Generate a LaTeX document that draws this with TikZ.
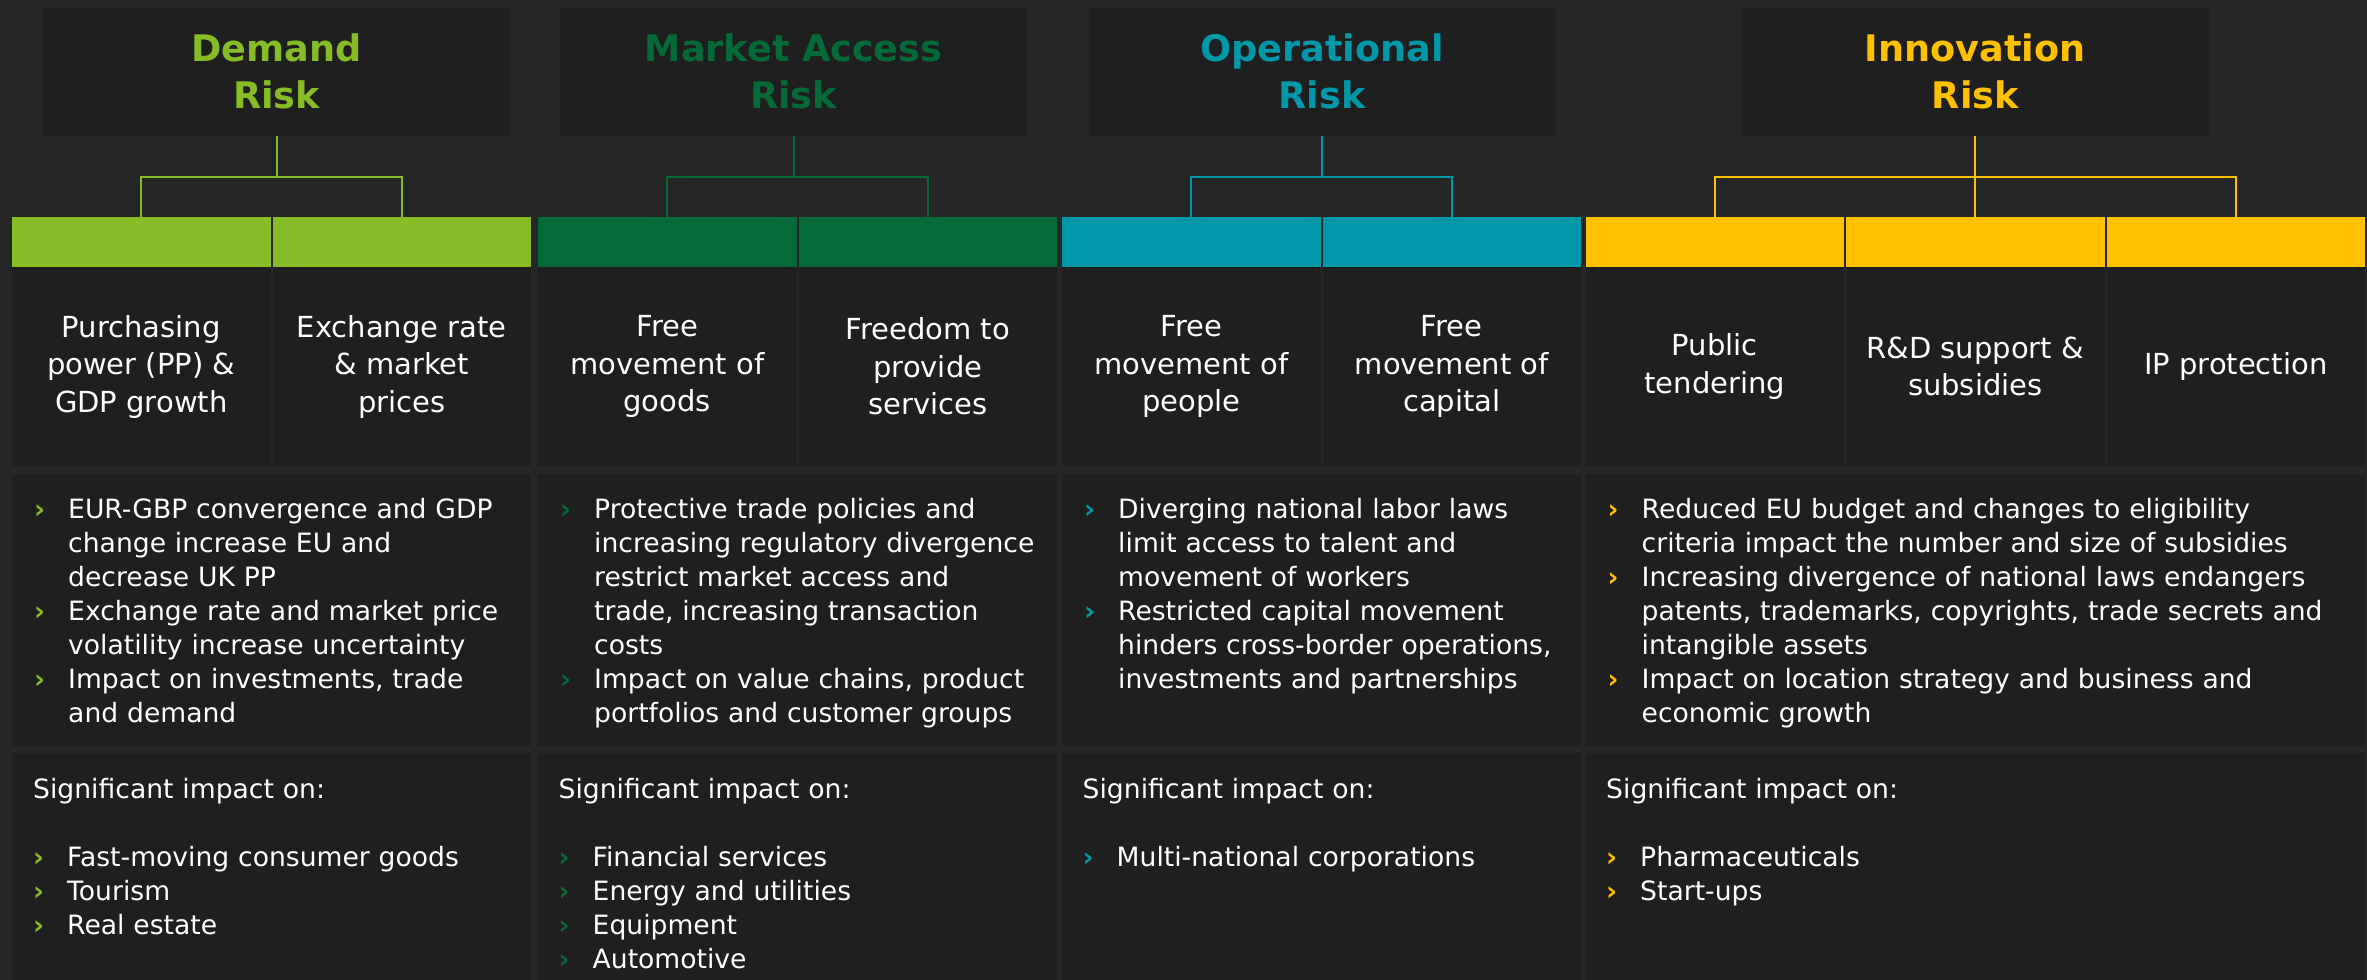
\documentclass[tikz,border=0pt]{standalone}
\usepackage{fontspec}
\setmainfont{DejaVu Sans}
\definecolor{bgcol}{HTML}{262626}
\definecolor{boxcol}{HTML}{201F20}
\definecolor{demcol}{HTML}{86BC25}
\definecolor{mktcol}{HTML}{046A38}
\definecolor{opcol}{HTML}{0097A9}
\definecolor{inncol}{HTML}{FFC000}
\tikzset{
  head/.style={fill=boxcol, minimum width=467pt, minimum height=128.5pt, inner sep=0pt,
    align=center, font=\bfseries\fontsize{36.6}{47}\selectfont},
  bar/.style={minimum width=258.5pt, minimum height=50pt, inner sep=0pt},
  lbl/.style={fill=boxcol, text=white, minimum width=258.5pt, minimum height=199pt,
    inner sep=0pt, align=center, font=\fontsize{29}{37.5}\selectfont},
  listbox/.style={fill=boxcol, minimum height=272pt, inner sep=0pt},
  impbox/.style={fill=boxcol, minimum height=227pt, inner sep=0pt},
  txt/.style={anchor=base west, text=white, text width=760pt, align=left, inner sep=0pt,
    font=\fontsize{26.6}{34}\selectfont},
  link/.style={line width=2pt}
}
\newcommand{\blt}[1]{\makebox[34pt][l]{\textcolor{#1}{\bfseries ›}}}
\newcommand{\bind}{\hspace*{34pt}}
\begin{document}
\begin{tikzpicture}[x=1pt,y=-1pt]
  \fill[bgcol] (0,0) rectangle (2367,980);
  \useasboundingbox (0,0) rectangle (2367,980);
  % headers
  \path
    (276.5,71.75) node[head, text=demcol] (dmh) {Demand\\Risk}
    (793.5,71.75) node[head, text=mktcol] (mah) {Market Access\\Risk}
    (1322,71.75) node[head, text=opcol] (oph) {Operational\\Risk}
    (1975.25,71.75) node[head, text=inncol] (inh) {Innovation\\Risk};
  % colour bars
  \path
    (141.25,242) node[bar, fill=demcol] (dm1) {}
    (401.75,242) node[bar, fill=demcol] (dm2) {}
    (667.25,242) node[bar, fill=mktcol] (ma1) {}
    (927.75,242) node[bar, fill=mktcol] (ma2) {}
    (1191.25,242) node[bar, fill=opcol] (op1) {}
    (1451.75,242) node[bar, fill=opcol] (op2) {}
    (1714.75,242) node[bar, fill=inncol] (in1) {}
    (1975.25,242) node[bar, fill=inncol] (in2) {}
    (2235.75,242) node[bar, fill=inncol] (in3) {};
  % label cells
  \path
    (141.25,366.5) node[lbl] (dml1) {Purchasing\\power (PP) \&\\GDP growth}
    (401.75,366.5) node[lbl] (dml2) {Exchange rate\\\& market\\prices}
    (667.25,366.5) node[lbl] (mal1) {Free\\movement of\\goods}
    (927.75,366.5) node[lbl] (mal2) {Freedom to\\provide\\services}
    (1191.25,366.5) node[lbl] (opl1) {Free\\movement of\\people}
    (1451.75,366.5) node[lbl] (opl2) {Free\\movement of\\capital}
    (1714.75,366.5) node[lbl] (inl1) {Public\\tendering}
    (1975.25,366.5) node[lbl] (inl2) {R\&D support \&\\subsidies}
    (2235.75,366.5) node[lbl] (inl3) {IP protection};
  % list boxes
  \path
    (271.5,610) node[listbox, minimum width=519pt] (dmb) {}
    (797.5,610) node[listbox, minimum width=519pt] (mab) {}
    (1321.5,610) node[listbox, minimum width=519pt] (opb) {}
    (1975,610) node[listbox, minimum width=779pt] (inb) {}
    (271.5,866.5) node[impbox, minimum width=519pt] (dmi) {}
    (797.5,866.5) node[impbox, minimum width=519pt] (mai) {}
    (1321.5,866.5) node[impbox, minimum width=519pt] (opi) {}
    (1975,866.5) node[impbox, minimum width=779pt] (ini) {};
  % list texts
  \node[txt] (dmbt) at (34,518.5) {\blt{demcol}EUR-GBP convergence and GDP\\
    \bind change increase EU and\\
    \bind decrease UK PP\\
    \blt{demcol}Exchange rate and market price\\
    \bind volatility increase uncertainty\\
    \blt{demcol}Impact on investments, trade\\
    \bind and demand};
  \node[txt] (mabt) at (560,518.5) {\blt{mktcol}Protective trade policies and\\
    \bind increasing regulatory divergence\\
    \bind restrict market access and\\
    \bind trade, increasing transaction\\
    \bind costs\\
    \blt{mktcol}Impact on value chains, product\\
    \bind portfolios and customer groups};
  \node[txt] (opbt) at (1084,518.5) {\blt{opcol}Diverging national labor laws\\
    \bind limit access to talent and\\
    \bind movement of workers\\
    \blt{opcol}Restricted capital movement\\
    \bind hinders cross-border operations,\\
    \bind investments and partnerships};
  \node[txt] (inbt) at (1607.5,518.5) {\blt{inncol}Reduced EU budget and changes to eligibility\\
    \bind criteria impact the number and size of subsidies\\
    \blt{inncol}Increasing divergence of national laws endangers\\
    \bind patents, trademarks, copyrights, trade secrets and\\
    \bind intangible assets\\
    \blt{inncol}Impact on location strategy and business and\\
    \bind economic growth};
  % impact texts
  \node[txt] (dmit) at (33,798.5) {Significant impact on:\\[34pt]
    \blt{demcol}Fast-moving consumer goods\\
    \blt{demcol}Tourism\\
    \blt{demcol}Real estate};
  \node[txt] (mait) at (558.5,798.5) {Significant impact on:\\[34pt]
    \blt{mktcol}Financial services\\
    \blt{mktcol}Energy and utilities\\
    \blt{mktcol}Equipment\\
    \blt{mktcol}Automotive};
  \node[txt] (opit) at (1082.5,798.5) {Significant impact on:\\[34pt]
    \blt{opcol}Multi-national corporations};
  \node[txt] (init) at (1606,798.5) {Significant impact on:\\[34pt]
    \blt{inncol}Pharmaceuticals\\
    \blt{inncol}Start-ups};
  % connectors
  \coordinate (dmj) at (276.5,177);
  \coordinate (maj) at (793.5,177);
  \coordinate (opj) at (1322,177);
  \coordinate (inj) at (1975.25,177);
  \begin{scope}[link]
    \draw[demcol] (dmh.south) -- (dmj);
    \draw[demcol] (dm1.north) |- (dmj) -| (dm2.north);
    \draw[mktcol] (mah.south) -- (maj);
    \draw[mktcol] (ma1.north) |- (maj) -| (ma2.north);
    \draw[opcol] (oph.south) -- (opj);
    \draw[opcol] (op1.north) |- (opj) -| (op2.north);
    \draw[inncol] (inh.south) -- (in2.north);
    \draw[inncol] (in1.north) |- (inj) -| (in3.north);
  \end{scope}
\end{tikzpicture}
\end{document}
